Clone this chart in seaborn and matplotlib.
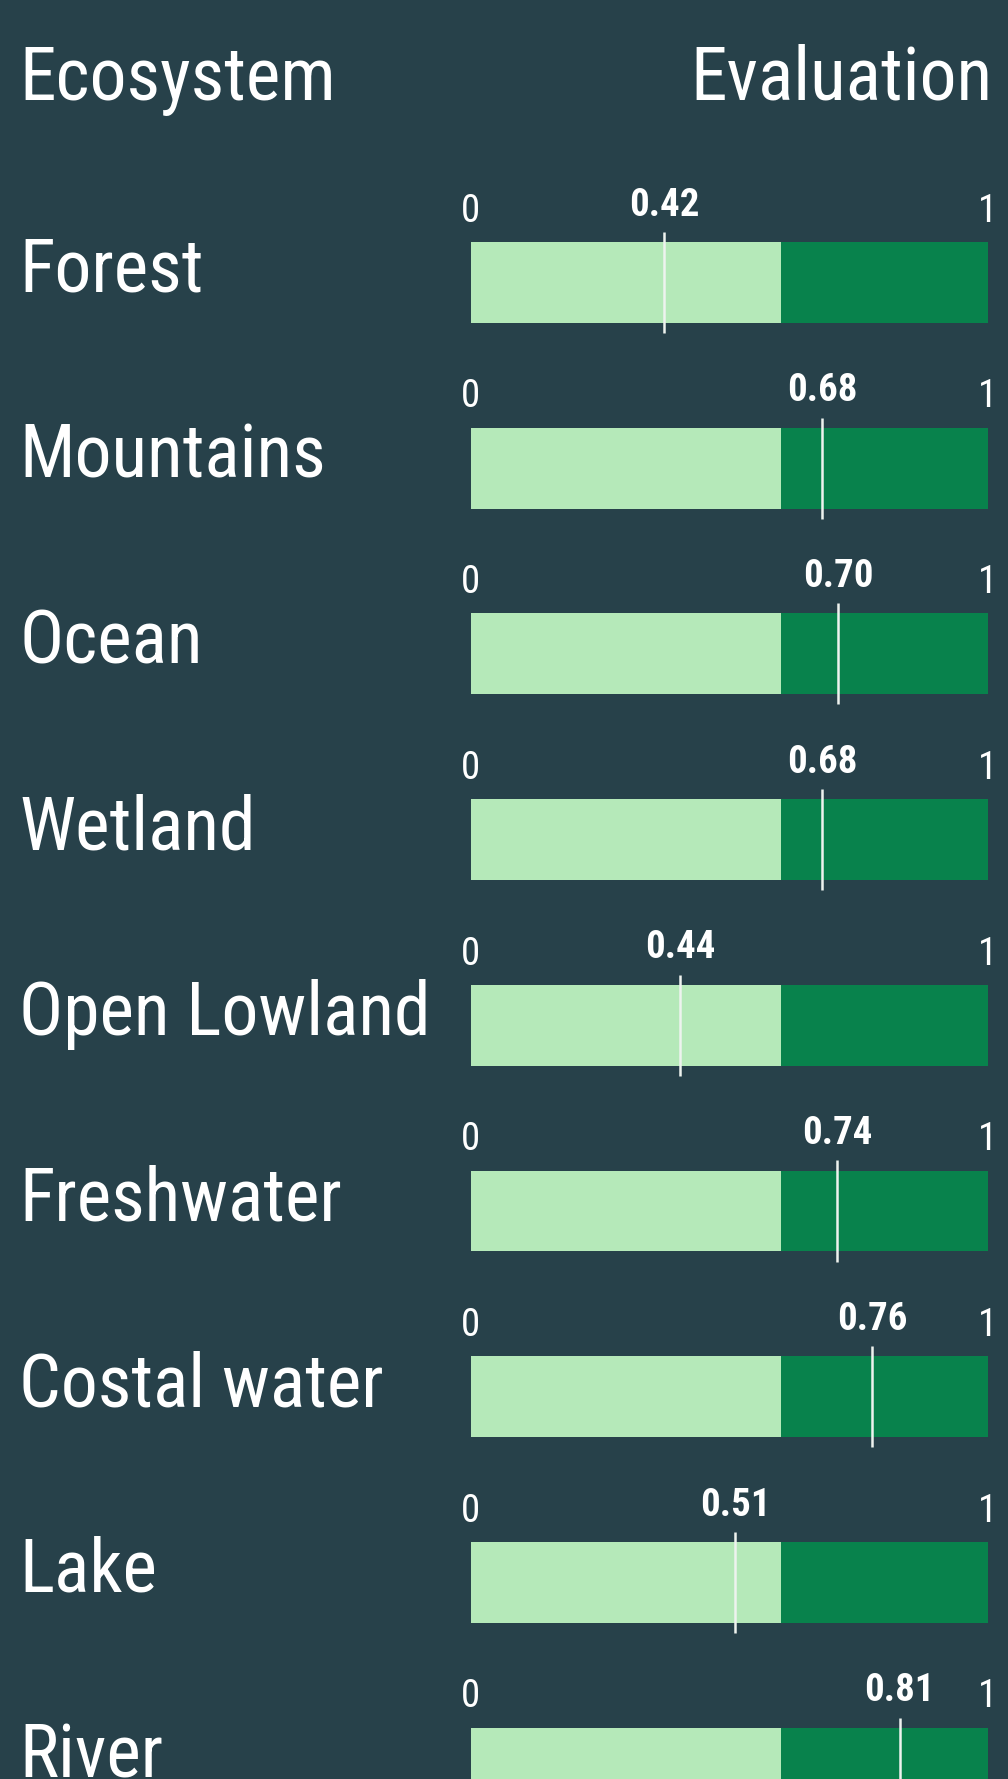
import matplotlib
matplotlib.use("Agg")
import matplotlib.pyplot as plt
import matplotlib.transforms as mtransforms
import pandas as pd
import seaborn as sns

# Data
ecosystems = ["Forest", "Mountains", "Ocean", "Wetland", "Open Lowland",
              "Freshwater", "Costal water", "Lake", "River"]
scale_end = [1, 1, 1, 1, 1, 1, 1, 1, 1]
threshold = [0.6, 0.6, 0.6, 0.6, 0.6, 0.6, 0.6, 0.6, 0.6]
marker_pos = [0.374, 0.680, 0.710, 0.680, 0.405, 0.709, 0.776, 0.511, 0.829]
value_labels = ["0.42", "0.68", "0.70", "0.68", "0.44", "0.74", "0.76", "0.51", "0.81"]

df = pd.DataFrame({
    "ecosystem": ecosystems,
    "end": scale_end,
    "threshold": threshold,
    "marker": marker_pos,
    "label": value_labels,
})

BG = "#27414a"
LIGHT = "#b5e9b9"
DARK = "#08824c"

plt.rcParams["font.family"] = ["Roboto Condensed", "Roboto", "DejaVu Sans"]

W, H = 1008, 1779
fig = plt.figure(figsize=(W / 100, H / 100), dpi=100)
fig.patch.set_facecolor(BG)

# axes covers the bar span horizontally, full height vertically
x0, x1 = 470.5, 988
ax = fig.add_axes([x0 / W, 0, (x1 - x0) / W, 1])
ax.patch.set_alpha(0)

bar_h = 0.436
sns.barplot(data=df, y="ecosystem", x="end", color=DARK, saturation=1,
            width=bar_h, linewidth=0, orient="h", ax=ax)
sns.barplot(data=df, y="ecosystem", x="threshold", color=LIGHT, saturation=1,
            width=bar_h, linewidth=0, orient="h", ax=ax)

# map rows to pixel rows: first bar centre at 282.5px, spacing 185.7px
first, step = 282.5, 185.7
ax.set_ylim((H - first) / step, -first / step)
ax.set_xlim(0, 1)
ax.axis("off")

for i, row in df.iterrows():
    ax.vlines(row["marker"], i - 0.272, i + 0.272, color="#eef3ef", lw=1.8)
    ax.text(0, i - 0.327, "0", ha="center", va="baseline", color="white",
            fontsize=28)
    ax.text(row["end"], i - 0.327, "1", ha="center", va="baseline",
            color="white", fontsize=28)
    ax.text(row["marker"], i - 0.36, row["label"], ha="center", va="baseline",
            color="white", fontsize=28, fontweight="bold")

# row names on the left
trans = mtransforms.blended_transform_factory(fig.transFigure, ax.transData)
for i, name in enumerate(ecosystems):
    ax.text(19 / W, i + 0.051, name, transform=trans, ha="left", va="baseline",
            color="white", fontsize=53)

fig.text(19 / W, 1 - 100 / H, "Ecosystem", ha="left", va="baseline",
         color="white", fontsize=53)
fig.text(992 / W, 1 - 100 / H, "Evaluation", ha="right", va="baseline",
         color="white", fontsize=53)

fig.savefig("out.png", dpi=100, facecolor=BG)
